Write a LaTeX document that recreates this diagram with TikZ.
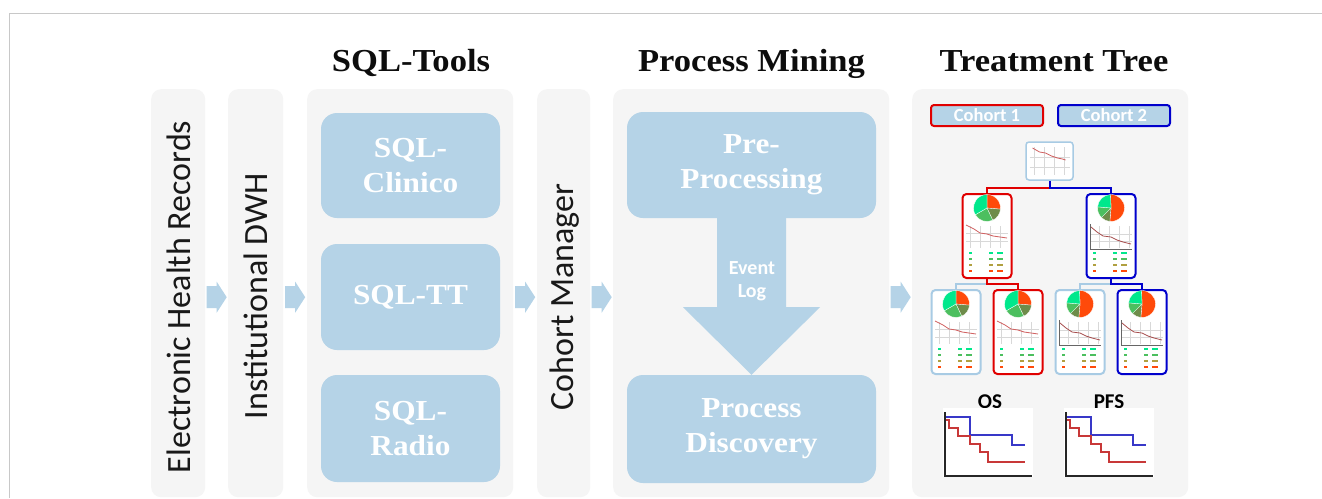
\documentclass[tikz,border=0pt]{standalone}
\usepackage{fontspec}
\setmainfont{Liberation Serif}
\newfontfamily\sansf{Carlito}
\newfontfamily\serifx[FakeStretch=1.08]{Liberation Serif}
\usetikzlibrary{calc}
\definecolor{panelc}{HTML}{F5F5F5}
\definecolor{boxblue}{HTML}{B5D3E7}
\definecolor{framec}{HTML}{C8C8C8}
\definecolor{tred}{HTML}{E00000}
\definecolor{tblue}{HTML}{0000CC}
\definecolor{tlight}{HTML}{A8CBE4}
\definecolor{pgA}{HTML}{00E88C}
\definecolor{pgB}{HTML}{4CBF5F}
\definecolor{pgC}{HTML}{6E8C4A}
\definecolor{pgD}{HTML}{B0A040}
\definecolor{porc}{HTML}{FF4A0A}
\definecolor{gridc}{HTML}{D8D8D8}
\definecolor{curvec}{HTML}{D06060}
\definecolor{osblue}{HTML}{3838C8}
\definecolor{osred}{HTML}{C83838}

\newcommand\pieslice[3]{\fill[#1,draw=white,line width=0.3pt] (0,15) -- +(#2:13.5pt) arc[start angle=#2,end angle=#3,radius=13.5pt] -- cycle;}
\newcommand\pieA{\pieslice{porc}{90}{-5}\pieslice{pgC}{-5}{-65}\pieslice{pgB}{-65}{-150}\pieslice{pgA}{-150}{-270}}
\newcommand\pieB{\pieslice{porc}{92}{-95}\pieslice{pgC}{-95}{-135}\pieslice{pgB}{-135}{-185}\pieslice{pgA}{-185}{-268}}
\newcommand\tablerows{%
  \foreach \yy/\cc in {60/pgA,66/pgB,72/pgD,78/porc}{
    \draw[\cc,line width=1.1pt] (-18,\yy) -- (-15,\yy) (2,\yy) -- (6,\yy) (10,\yy) -- (16,\yy);}}
\newcommand\chartA{%
  \draw[gridc,line width=0.4pt] (-17,33) -- (-17,55) (-7,33) -- (-7,55) (3,33) -- (3,55) (13,33) -- (13,55)
     (-21,40) -- (21,40) (-21,48) -- (21,48);
  \draw[curvec,line width=0.8pt] (-21,32) -- (-13,36) -- (-7,40) -- (0,41) -- (6,43) -- (13,44) -- (20,45);}
\newcommand\chartB{%
  \draw[gridc,line width=0.4pt] (-12,33) -- (-12,55) (-2,33) -- (-2,55) (8,33) -- (8,55) (18,33) -- (18,55)
     (-21,41) -- (21,41) (-21,48) -- (21,48);
  \draw[black!60,line width=0.6pt] (-21,31) -- (-21,56) -- (21,56);
  \draw[curvec!80!black,line width=0.8pt] (-20,34) -- (-14,39) -- (-8,43) -- (0,44) -- (6,47) -- (12,49) -- (20,51);}
% #1 name, #2 cx, #3 top, #4 border colour, #5 pie, #6 chart
\newcommand\card[6]{%
  \node[cardbox,draw=#4] (#1) at (#2,#3) {};
  \begin{scope}[shift={(#2,#3)}]#5#6\tablerows\end{scope}}
\newcommand\stairs{%
  \draw[black!85,line width=1.3pt] (2,4) -- (2,68) -- (89,68);
  \draw[osblue,line width=2pt] (3,9) -- (27,9) -- (27,27) -- (69,27) -- (69,37) -- (82,37);
  \draw[osred,line width=2pt] (3,12) -- (6,12) -- (6,20) -- (15,20) -- (15,28) -- (27,28) -- (27,36) -- (37,36) -- (37,44) -- (45,44) -- (45,54) -- (82,54);}

\begin{document}
\begin{tikzpicture}[x=1pt,y=-1pt,
  panelbox/.style={fill=panelc,rounded corners=10pt,inner sep=0pt,anchor=north west,minimum height=408pt},
  vtext/.style={rotate=90,font=\sansf\fontsize{34}{40}\selectfont,text=black!90,inner sep=0pt},
  title/.style={font=\serifx\bfseries\fontsize{32}{38}\selectfont,text=black!95,anchor=base,inner sep=0pt},
  bluebox/.style={fill=boxblue,rounded corners=16pt,inner sep=0pt,align=center,text=white,
     font=\serifx\bfseries\fontsize{29}{35}\selectfont},
  arrowc/.style={fill=boxblue},
  cardbox/.style={fill=white,line width=2pt,rounded corners=4pt,minimum width=49pt,minimum height=84pt,anchor=north,inner sep=0pt},
  cohortbox/.style={fill=boxblue,line width=2pt,rounded corners=3pt,minimum width=112pt,minimum height=21pt,inner sep=0pt,
     text=white,font=\sansf\bfseries\fontsize{18.5}{20}\selectfont},
  tline/.style={line width=2pt},
  lab/.style={font=\sansf\bfseries\fontsize{21}{24}\selectfont,inner sep=0pt,anchor=base}]
\useasboundingbox (0,0) rectangle (1322,498);
\fill[white] (0,0) rectangle (1322,498);
\draw[framec,line width=1pt] (9,498) -- (9,13) -- (1322,13);

% panels
\node[panelbox,minimum width=54pt] (ehr) at (151,89) {};
\node[panelbox,minimum width=55pt] (dwh) at (228,89) {};
\node[panelbox,minimum width=206pt] (sqlp) at (307,89) {};
\node[panelbox,minimum width=53pt] (coh) at (537,89) {};
\node[panelbox,minimum width=276pt] (pm) at (613,89) {};
\node[panelbox,minimum width=276pt] (tt) at (912,89) {};

% vertical labels
\node[vtext] (ehrt) at (178.5,297) {Electronic Health Records};
\node[vtext] (dwht) at (256,296) {Institutional DWH};
\node[vtext] (coht) at (565,297) {Cohort Manager};

% titles
\node[title] (t1) at (411,71) {SQL-Tools};
\node[title] (t2) at (751.5,71) {Process Mining};
\node[title] (t3) at (1054,71) {Treatment Tree};

% block arrows between panels
\foreach \a/\b in {ehr/dwh,dwh/sqlp,sqlp/coh,coh/pm,pm/tt}{
  \path ($(\a.east)!0.5!(\b.west)+(0,4)$) coordinate (m);
  \fill[arrowc] ($(m)+(-10,-11)$) -- ++(10,0) -- ++(0,-4.5) -- ++(10,15.5) -- ++(-10,15.5) -- ++(0,-4.5) -- ++(-10,0) -- cycle;
}

% SQL tools
\node[bluebox,minimum width=179pt,minimum height=105pt] (clin) at (410.5,165.5) {SQL-\\Clinico};
\node[bluebox,minimum width=179pt,minimum height=106pt] (sqltt) at (410.5,297) {SQL-TT};
\node[bluebox,minimum width=179pt,minimum height=107pt] (radio) at (410.5,428.5) {SQL-\\Radio};

% Process mining
\node[bluebox,minimum width=249pt,minimum height=106pt] (prep) at (751.5,165) {Pre-\\Processing};
\node[bluebox,minimum width=249pt,minimum height=108pt] (disc) at (751.5,429) {Process\\Discovery};
\fill[arrowc] ($(prep.south)+(-34.5,-1)$) -- ($(prep.south)+(34.5,-1)$) -- ($(prep.south)+(34.5,89)$)
   -- ($(prep.south)+(68.5,89)$) -- (disc.north) -- ($(prep.south)+(-68.5,89)$) -- ($(prep.south)+(-34.5,89)$) -- cycle;
\node[font=\sansf\bfseries\fontsize{20}{23}\selectfont,text=white,align=center,inner sep=0pt] (evl) at (752,281) {Event\\Log};

% Treatment tree
\node[cohortbox,draw=tred] (co1) at (987,115.5) {Cohort 1};
\node[cohortbox,draw=tblue] (co2) at (1114,115.5) {Cohort 2};
\node[fill=white,draw=tlight,line width=1.5pt,rounded corners=3pt,minimum width=47pt,minimum height=38pt,inner sep=0pt] (root) at (1049.5,161) {};
\begin{scope}[shift={(1049.5,161)}]
  \draw[gridc,line width=0.4pt] (-15,-14) -- (-15,14) (-5,-14) -- (-5,14) (5,-14) -- (5,14) (15,-14) -- (15,14) (-20,-4) -- (20,-4) (-20,6) -- (20,6);
  \draw[curvec,line width=0.8pt] (-17,-13) -- (-10,-9) -- (-4,-8) -- (2,-5) -- (8,-3) -- (13,-2) -- (16,-1);
\end{scope}

\card{c1}{987}{193}{tred}{\pieA}{\chartA}
\card{c2}{1111}{193}{tblue}{\pieB}{\chartB}
\card{d1}{956}{289}{tlight}{\pieA}{\chartA}
\card{d2}{1018}{289}{tred}{\pieA}{\chartA}
\card{d3}{1080}{289}{tlight}{\pieB}{\chartB}
\card{d4}{1142}{289}{tblue}{\pieB}{\chartB}

\draw[tred,tline] (root.south) ++(0,7) -| (c1.north);
\draw[tblue,tline] (root.south) -- ++(0,7) -| (c2.north);
\draw[tlight,tline] (c1.south) ++(0,5) -| (d1.north);
\draw[tred,tline] (c1.south) -- ++(0,5) -| (d2.north);
\draw[tlight,tline] (c2.south) ++(0,5) -| (d3.north);
\draw[tblue,tline] (c2.south) -- ++(0,5) -| (d4.north);

% survival charts
\node[lab] (oslab) at (990,408) {OS};
\node[lab] (pfslab) at (1109,408) {PFS};
\node[fill=white,minimum width=90pt,minimum height=69pt,inner sep=0pt,anchor=north west] (os) at (943,408) {};
\node[fill=white,minimum width=90pt,minimum height=69pt,inner sep=0pt,anchor=north west] (pfs) at (1064,408) {};
\begin{scope}[shift={(os.north west)}]\stairs\end{scope}
\begin{scope}[shift={(pfs.north west)}]\stairs\end{scope}
\end{tikzpicture}
\end{document}
